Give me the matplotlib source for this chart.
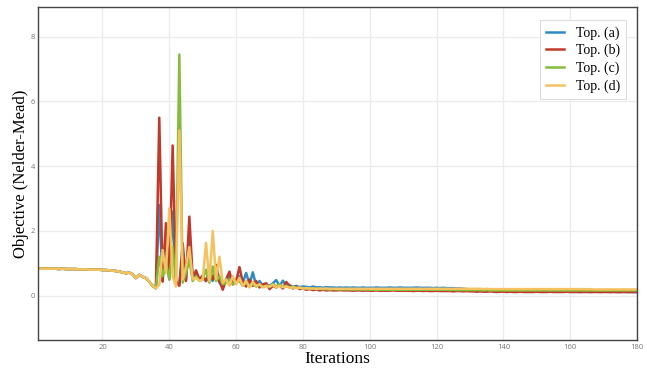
import matplotlib
matplotlib.use("Agg")
import matplotlib.pyplot as plt
import numpy as np

iterations = list(range(1, 181))

warmup = [0.83, 0.83, 0.83, 0.83, 0.83, 0.83, 0.82, 0.83, 0.82, 0.82,
          0.82, 0.82, 0.81, 0.81, 0.81, 0.80, 0.80, 0.80, 0.80, 0.79,
          0.79, 0.78, 0.77, 0.76, 0.74, 0.72, 0.69, 0.71, 0.66, 0.54,
          0.64, 0.58, 0.54, 0.43, 0.30, 0.23]

top_a = warmup + [
    2.80, 0.45, 1.90, 0.55, 2.60, 0.40, 0.35, 1.20, 0.50, 1.80,
    0.50, 0.70, 0.50, 0.55, 0.45, 0.60, 0.45, 0.70, 0.40, 0.30,
    0.45, 0.60, 0.35, 0.45, 0.60, 0.40, 0.70, 0.35, 0.72, 0.30,
    0.45, 0.30, 0.35, 0.30, 0.38, 0.48, 0.30, 0.46, 0.30, 0.32,
    0.27, 0.30, 0.26, 0.28,
    0.27, 0.25, 0.28, 0.25, 0.26, 0.24, 0.26, 0.25, 0.25, 0.24,
    0.25, 0.24, 0.25, 0.24, 0.25, 0.24, 0.24, 0.25, 0.24, 0.24,
    0.24, 0.25, 0.24, 0.24, 0.24, 0.25, 0.24, 0.24, 0.25, 0.24,
    0.24, 0.24, 0.24, 0.25, 0.24, 0.24, 0.24, 0.24, 0.23, 0.24,
    0.23, 0.24, 0.23, 0.23, 0.23, 0.22, 0.22, 0.21, 0.20, 0.19,
    0.18, 0.17, 0.16, 0.16, 0.15, 0.15, 0.14, 0.15, 0.14, 0.14,
    0.14, 0.13, 0.14, 0.13, 0.13, 0.14, 0.13, 0.13, 0.12, 0.13,
    0.13, 0.12, 0.13, 0.12, 0.12, 0.13, 0.12, 0.12, 0.12, 0.12,
    0.12, 0.12, 0.11, 0.12, 0.12, 0.11, 0.12, 0.12, 0.11, 0.12,
    0.12, 0.11, 0.12, 0.11, 0.11, 0.12, 0.11, 0.11, 0.11, 0.11]

top_b = warmup + [
    5.50, 0.43, 2.24, 0.50, 4.64, 0.45, 0.30, 1.62, 0.45, 2.44,
    0.55, 0.78, 0.50, 0.62, 0.45, 0.75, 0.50, 0.95, 0.45, 0.18,
    0.50, 0.74, 0.35, 0.45, 0.88, 0.40, 0.28, 0.50, 0.30, 0.45,
    0.25, 0.35, 0.38, 0.20, 0.30, 0.25, 0.32, 0.22, 0.42, 0.30,
    0.22, 0.28, 0.20, 0.22,
    0.18, 0.20, 0.17, 0.19, 0.16, 0.18, 0.16, 0.17, 0.16, 0.16,
    0.17, 0.16, 0.16, 0.16, 0.15, 0.16, 0.16, 0.15, 0.16, 0.15,
    0.15, 0.16, 0.15, 0.15, 0.15, 0.15, 0.16, 0.15, 0.15, 0.15,
    0.15, 0.15, 0.14, 0.15, 0.15, 0.14, 0.15, 0.14, 0.14, 0.15,
    0.14, 0.14, 0.14, 0.14, 0.13, 0.14, 0.14, 0.13, 0.14, 0.13,
    0.13, 0.12, 0.13, 0.12, 0.12, 0.13, 0.12, 0.11, 0.12, 0.12,
    0.11, 0.12, 0.11, 0.11, 0.12, 0.11, 0.11, 0.11, 0.11, 0.12,
    0.11, 0.11, 0.11, 0.12, 0.11, 0.11, 0.11, 0.11, 0.12, 0.11,
    0.11, 0.11, 0.11, 0.11, 0.11, 0.11, 0.11, 0.11, 0.11, 0.11,
    0.11, 0.11, 0.11, 0.11, 0.11, 0.11, 0.11, 0.11, 0.11, 0.11]

top_c = warmup + [
    1.20, 0.60, 1.00, 0.50, 1.50, 0.35, 7.45, 0.40, 0.70, 1.10,
    0.45, 0.60, 0.45, 0.50, 0.80, 0.40, 0.90, 0.45, 0.60, 0.35,
    0.40, 0.50, 0.35, 0.40, 0.45, 0.30, 0.40, 0.30, 0.35, 0.28,
    0.33, 0.27, 0.30, 0.26, 0.36, 0.28, 0.35, 0.27, 0.30, 0.25,
    0.27, 0.24, 0.25, 0.23,
    0.22, 0.21, 0.22, 0.20, 0.21, 0.20, 0.20, 0.19, 0.20, 0.19,
    0.19, 0.19, 0.19, 0.19, 0.18, 0.19, 0.19, 0.18, 0.19, 0.18,
    0.18, 0.18, 0.18, 0.18, 0.18, 0.18, 0.18, 0.18, 0.18, 0.18,
    0.18, 0.18, 0.18, 0.18, 0.18, 0.18, 0.18, 0.18, 0.18, 0.18,
    0.18, 0.18, 0.18, 0.17, 0.18, 0.17, 0.17, 0.17, 0.17, 0.17,
    0.17, 0.17, 0.17, 0.16, 0.17, 0.16, 0.16, 0.16, 0.16, 0.16,
    0.16, 0.16, 0.16, 0.16, 0.16, 0.16, 0.16, 0.16, 0.16, 0.16,
    0.16, 0.16, 0.16, 0.16, 0.16, 0.16, 0.16, 0.16, 0.16, 0.16,
    0.16, 0.16, 0.16, 0.16, 0.16, 0.16, 0.16, 0.16, 0.16, 0.16,
    0.16, 0.16, 0.16, 0.16, 0.16, 0.16, 0.16, 0.16, 0.16, 0.16]

top_d = warmup + [
    0.33, 1.41, 0.70, 2.70, 0.60, 0.28, 5.10, 0.50, 0.90, 1.50,
    0.50, 0.55, 0.45, 0.50, 1.63, 0.45, 2.00, 0.50, 1.20, 0.40,
    0.50, 0.30, 0.60, 0.35, 0.55, 0.30, 0.45, 0.25, 0.42, 0.30,
    0.35, 0.25, 0.30, 0.28, 0.33, 0.25, 0.30, 0.26, 0.28, 0.24,
    0.25, 0.23, 0.24, 0.22,
    0.23, 0.22, 0.22, 0.21, 0.22, 0.21, 0.22, 0.21, 0.21, 0.21,
    0.21, 0.21, 0.21, 0.21, 0.21, 0.21, 0.21, 0.21, 0.21, 0.21,
    0.21, 0.21, 0.21, 0.21, 0.21, 0.21, 0.21, 0.21, 0.21, 0.21,
    0.21, 0.21, 0.21, 0.21, 0.21, 0.21, 0.21, 0.21, 0.21, 0.21,
    0.21, 0.21, 0.21, 0.21, 0.21, 0.21, 0.21, 0.21, 0.21, 0.21,
    0.21, 0.21, 0.21, 0.20, 0.21, 0.20, 0.20, 0.20, 0.20, 0.20,
    0.20, 0.20, 0.20, 0.20, 0.20, 0.20, 0.20, 0.20, 0.20, 0.20,
    0.20, 0.20, 0.20, 0.20, 0.20, 0.20, 0.20, 0.20, 0.20, 0.20,
    0.20, 0.20, 0.20, 0.20, 0.19, 0.20, 0.19, 0.19, 0.19, 0.19,
    0.19, 0.19, 0.19, 0.19, 0.19, 0.19, 0.19, 0.19, 0.19, 0.19]

series_labels = ["Top. (a)", "Top. (b)", "Top. (c)", "Top. (d)"]
series_colors = ["#2f8ac4", "#c0392b", "#86bc3c", "#f5c260"]
x_ticks = [20, 40, 60, 80, 100, 120, 140, 160, 180]
y_ticks = [0, 2, 4, 6, 8]

fig = plt.figure(figsize=(6.47, 3.69), dpi=100)
ax = fig.add_axes([0.0587, 0.078, 0.926, 0.903])

for vals, lab, col in zip([top_a, top_b, top_c, top_d], series_labels, series_colors):
    ax.plot(iterations, vals, color=col, lw=1.8, label=lab)

ax.set_xlim(0.7, 180)
ax.set_ylim(-1.38, 8.92)
ax.set_xticks(x_ticks)
ax.set_yticks(y_ticks)
ax.grid(True, color="#ebebeb", lw=0.9)
ax.set_axisbelow(True)
ax.tick_params(axis="x", length=0, labelsize=5.5, labelcolor="#777777", pad=3)
ax.tick_params(axis="y", length=0, labelsize=5.5, labelcolor="#777777", pad=2)
for lab in ax.get_xticklabels() + ax.get_yticklabels():
    lab.set_family("Open Sans")
for sp in ax.spines.values():
    sp.set_color("#444444")
    sp.set_linewidth(1.0)

ax.set_xlabel("Iterations", family="Liberation Serif", fontsize=12.5, labelpad=0)
ax.set_ylabel("Objective (Nelder-Mead)", family="Liberation Serif", fontsize=12, labelpad=1.5)

leg = ax.legend(loc="upper right", prop={"family": "Liberation Serif", "size": 10},
                frameon=True, fancybox=False, edgecolor="#dddddd", framealpha=1,
                handlelength=1.3, handletextpad=0.8, borderpad=0.45, labelspacing=0.3,
                borderaxespad=0, bbox_to_anchor=(0.9816, 0.961))
leg.get_frame().set_linewidth(0.8)

fig.savefig("out.png", dpi=100)
